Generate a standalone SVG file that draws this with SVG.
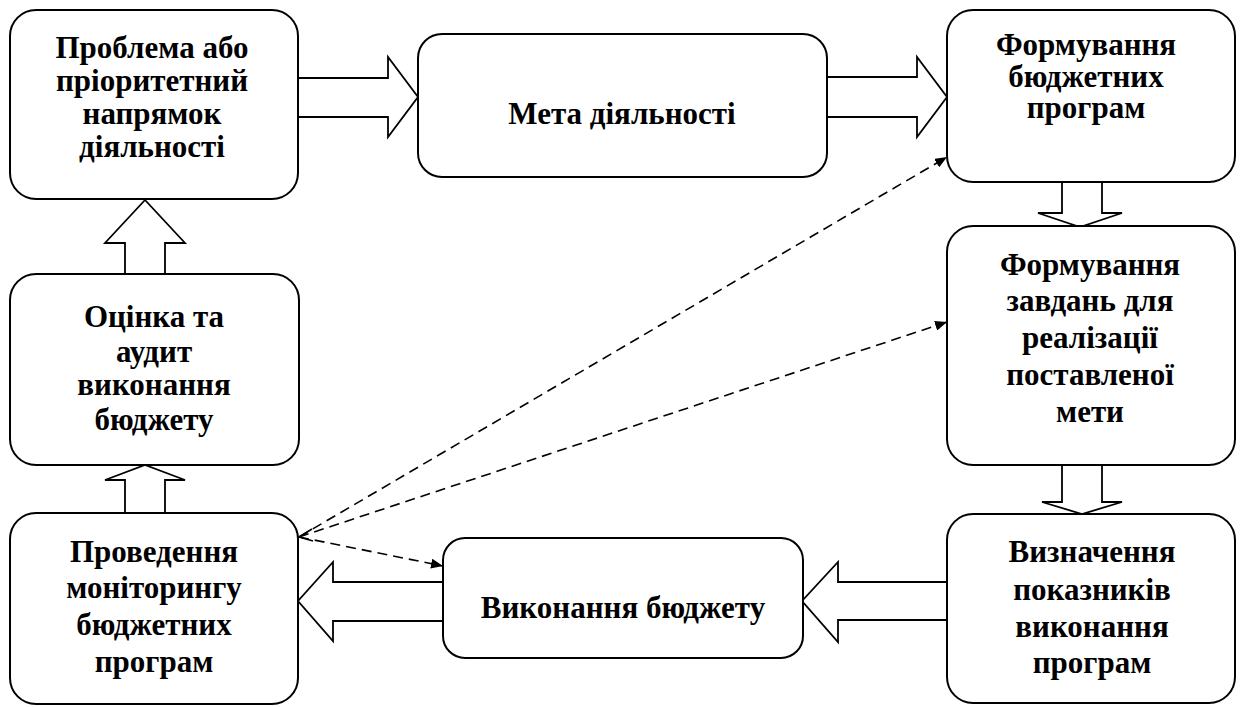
<svg xmlns="http://www.w3.org/2000/svg" width="1242" height="707" viewBox="0 0 1242 707">
<defs>
<marker id="ah" viewBox="0 0 12 10" refX="12" refY="5" markerWidth="12" markerHeight="10" markerUnits="userSpaceOnUse" orient="auto">
<path d="M0,0 L12,5 L0,10 z" fill="#000"/>
</marker>
</defs>
<rect width="1242" height="707" fill="#fff"/>
<g id="connectors">
<g fill="#fff" stroke="#000" stroke-width="1.8">
<polygon points="298,78 388,78 388,57 418,97 388,137 388,117 298,117"/>
<polygon points="827,77 917,77 917,57 947,97 917,137 917,117 827,117"/>
<polygon points="1062,182 1102,182 1102,213 1122,213 1080,227 1038,213 1062,213"/>
<polygon points="1062,465 1102,465 1102,502 1122,502 1082,514 1042,502 1062,502"/>
<polygon points="947,582 838,582 838,562 802,601 838,642 838,620 947,620"/>
<polygon points="443,582 333,582 333,562 298,601 333,641 333,621 443,621"/>
<polygon points="125,513 125,480 105,480 145,465 185,480 165,480 165,513"/>
<polygon points="125,274 125,243 105,243 145,200 185,243 165,243 165,274"/>
</g>
<g fill="none" stroke="#000" stroke-width="1.6" stroke-dasharray="10 6">
<line x1="299" y1="537" x2="947" y2="157" marker-end="url(#ah)"/>
<line x1="299" y1="537" x2="947" y2="322" marker-end="url(#ah)"/>
<line x1="299" y1="537" x2="443" y2="566" marker-end="url(#ah)"/>
</g>
<path d="M312,529 L299,537 L313,541" fill="none" stroke="#000" stroke-width="1.6"/>
</g>
<g id="n1">
<rect x="10" y="10" width="288" height="189" rx="26" fill="#fff" stroke="#000" stroke-width="2"/>
<text font-family="Liberation Serif" font-weight="bold" font-size="31" text-anchor="middle" x="152" y="58">Проблема або</text>
<text font-family="Liberation Serif" font-weight="bold" font-size="31" text-anchor="middle" x="152" y="91">пріоритетний</text>
<text font-family="Liberation Serif" font-weight="bold" font-size="31" text-anchor="middle" x="152" y="124">напрямок</text>
<text font-family="Liberation Serif" font-weight="bold" font-size="31" text-anchor="middle" x="152" y="157">діяльності</text>
</g>
<g id="n2">
<rect x="418" y="34" width="409" height="143" rx="24" fill="#fff" stroke="#000" stroke-width="2"/>
<text font-family="Liberation Serif" font-weight="bold" font-size="31" text-anchor="middle" x="622" y="124">Мета діяльності</text>
</g>
<g id="n3">
<rect x="947" y="10" width="288" height="172" rx="26" fill="#fff" stroke="#000" stroke-width="2"/>
<text font-family="Liberation Serif" font-weight="bold" font-size="31" text-anchor="middle" x="1086" y="55">Формування</text>
<text font-family="Liberation Serif" font-weight="bold" font-size="31" text-anchor="middle" x="1086" y="87">бюджетних</text>
<text font-family="Liberation Serif" font-weight="bold" font-size="31" text-anchor="middle" x="1086" y="118">програм</text>
</g>
<g id="n4">
<rect x="947" y="226" width="288" height="239" rx="26" fill="#fff" stroke="#000" stroke-width="2"/>
<text font-family="Liberation Serif" font-weight="bold" font-size="31" text-anchor="middle" x="1090" y="275">Формування</text>
<text font-family="Liberation Serif" font-weight="bold" font-size="31" text-anchor="middle" x="1090" y="311">завдань для</text>
<text font-family="Liberation Serif" font-weight="bold" font-size="31" text-anchor="middle" x="1090" y="348">реалізації</text>
<text font-family="Liberation Serif" font-weight="bold" font-size="31" text-anchor="middle" x="1090" y="385">поставленої</text>
<text font-family="Liberation Serif" font-weight="bold" font-size="31" text-anchor="middle" x="1090" y="422">мети</text>
</g>
<g id="n5">
<rect x="947" y="514" width="288" height="189" rx="26" fill="#fff" stroke="#000" stroke-width="2"/>
<text font-family="Liberation Serif" font-weight="bold" font-size="31" text-anchor="middle" x="1092" y="562">Визначення</text>
<text font-family="Liberation Serif" font-weight="bold" font-size="31" text-anchor="middle" x="1092" y="600">показників</text>
<text font-family="Liberation Serif" font-weight="bold" font-size="31" text-anchor="middle" x="1092" y="637">виконання</text>
<text font-family="Liberation Serif" font-weight="bold" font-size="31" text-anchor="middle" x="1092" y="673">програм</text>
</g>
<g id="n6">
<rect x="443" y="538" width="360" height="120" rx="22" fill="#fff" stroke="#000" stroke-width="2"/>
<text font-family="Liberation Serif" font-weight="bold" font-size="31" text-anchor="middle" x="623" y="618">Виконання бюджету</text>
</g>
<g id="n7">
<rect x="10" y="513" width="288" height="191" rx="26" fill="#fff" stroke="#000" stroke-width="2"/>
<text font-family="Liberation Serif" font-weight="bold" font-size="31" text-anchor="middle" x="154" y="562">Проведення</text>
<text font-family="Liberation Serif" font-weight="bold" font-size="31" text-anchor="middle" x="154" y="598">моніторингу</text>
<text font-family="Liberation Serif" font-weight="bold" font-size="31" text-anchor="middle" x="154" y="635">бюджетних</text>
<text font-family="Liberation Serif" font-weight="bold" font-size="31" text-anchor="middle" x="154" y="672">програм</text>
</g>
<g id="n8">
<rect x="10" y="274" width="289" height="191" rx="26" fill="#fff" stroke="#000" stroke-width="2"/>
<text font-family="Liberation Serif" font-weight="bold" font-size="31" text-anchor="middle" x="154" y="327">Оцінка та</text>
<text font-family="Liberation Serif" font-weight="bold" font-size="31" text-anchor="middle" x="154" y="362">аудит</text>
<text font-family="Liberation Serif" font-weight="bold" font-size="31" text-anchor="middle" x="154" y="395">виконання</text>
<text font-family="Liberation Serif" font-weight="bold" font-size="31" text-anchor="middle" x="154" y="430">бюджету</text>
</g>
</svg>
